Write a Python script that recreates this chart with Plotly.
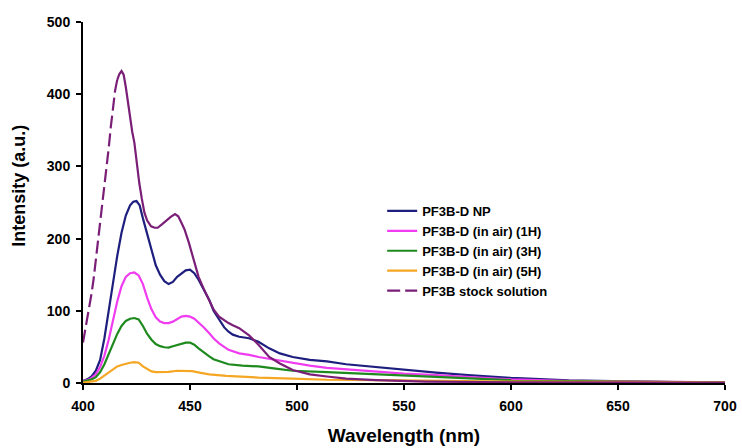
import plotly.graph_objects as go

# ---- data ----
wl_np = [400, 402, 404, 406, 408, 410, 412, 414, 416, 418, 420, 422, 423.5, 425, 426.5, 428, 430, 432,
         434, 436, 438, 440, 442, 444, 446, 448, 450, 452, 454, 456.5, 459, 461, 463.6, 466, 468, 470,
         473, 477.6, 482, 487, 492, 498, 506, 514, 523, 537, 550, 565, 580, 600, 627, 650, 675, 700]
int_np = [3, 5, 9, 17, 32, 62, 100, 140, 176, 208, 232, 246, 251, 252, 246, 228, 205, 182,
          163, 150, 141, 137, 140, 147, 152, 156, 157, 152, 143, 130, 115, 100, 87, 77, 71, 67,
          64, 62, 57, 48, 41, 36, 32, 30, 26, 22, 18, 14.5, 11, 7, 3.5, 2, 1.2, 1]

wl_1h = [400, 402, 404, 406, 408, 410, 412, 414, 416, 418, 420, 422, 424, 426, 428, 430, 432, 434,
         436, 438, 440, 442, 444, 446, 448, 450, 452, 454, 456.5, 459, 461, 463.6, 466, 468, 473,
         477.6, 482, 490, 498, 506, 514, 523, 537, 550, 565, 580, 600, 625, 650, 700]
int_1h = [3, 4, 7, 12, 22, 38, 60, 88, 113, 134, 147, 152, 153, 149, 137, 118, 102, 91,
          85, 83, 83, 85, 89, 92, 93, 92, 89, 84, 77, 69, 62, 55, 50, 46, 41,
          39, 36, 32, 27, 24, 21, 19, 16, 13, 11, 8, 5, 3, 2, 1]

wl_3h = [400, 402, 404, 406, 408, 410, 412, 414, 416, 418, 420, 422, 424, 426, 428, 430, 432, 434,
         436, 438, 440, 442, 444, 446, 448, 450, 452, 454, 456.5, 459, 461, 463.6, 468, 474.5, 482,
         490, 498, 514, 537, 550, 575, 600, 650, 700]
int_3h = [2, 3, 5, 8, 15, 26, 40, 55, 68, 79, 86, 89, 90, 88, 79, 68, 60, 54,
          51, 49.5, 49, 51, 53, 55, 56, 56, 53, 48, 42, 37, 33, 30, 26, 24, 23,
          20, 17, 15, 12, 10, 7, 4, 2, 1]

wl_5h = [400, 402, 404, 406, 408, 410, 412, 414, 416, 418, 420, 422, 424, 426, 428, 430, 432, 434,
         437, 440, 444, 448, 451, 455, 459, 467, 482, 498, 514, 537, 560, 600, 650, 700]
int_5h = [0.5, 1, 2, 3, 6, 10, 15, 19, 23, 25, 27, 28, 29, 28, 23, 19, 16, 15,
          15, 15.5, 17, 17, 16.5, 14, 12, 10, 7.5, 6, 4.5, 4, 3, 2, 1.5, 1]

# stock solution: rising part (drawn dashed) and remainder (drawn solid)
wl_stock_rise = [400, 401, 402, 403, 404, 405, 406, 407, 408, 409, 410, 411, 412, 413, 414, 415, 416]
int_stock_rise = [56, 72, 88, 106, 124, 145, 170, 196, 222, 250, 277, 300, 325, 355, 385, 405, 420]
wl_stock = [416, 417, 418, 419, 420, 421, 422, 423, 424, 425, 426.3, 427.5, 428.7, 430, 431.8, 433.5,
            434.9, 437, 438.8, 441, 443, 444.5, 446, 447.4, 449.5, 452, 454, 456.5, 459, 461, 463.6,
            466, 468, 470, 473, 477.6, 482, 487, 492, 498, 506, 514, 523, 537, 560, 600, 650, 700]
int_stock = [420, 428, 432, 427, 410, 388, 363, 348, 333, 305, 277, 255, 236, 225, 217, 215,
             215, 220, 225, 230, 234, 231, 222, 213, 194, 168, 147, 130, 115, 102, 92,
             87, 83, 80, 76, 66, 53, 36, 27, 18, 12, 9, 6, 4, 2, 1, 0.7, 0.5]

names = ["PF3B-D NP", "PF3B-D (in air) (1H)", "PF3B-D (in air) (3H)",
         "PF3B-D (in air) (5H)", "PF3B stock solution"]
colors = ["#1E1E7E", "#F03CF0", "#1E8A1E", "#F5A623", "#7A1E78"]

x_ticks = [400, 450, 500, 550, 600, 650, 700]
y_ticks = [0, 100, 200, 300, 400, 500]

FONT = "Liberation Sans, Arial, sans-serif"

fig = go.Figure()
series = [(wl_np, int_np), (wl_1h, int_1h), (wl_3h, int_3h), (wl_5h, int_5h)]
for (xs, ys), nm, c in zip(series, names[:4], colors[:4]):
    fig.add_trace(go.Scatter(x=xs, y=ys, mode="lines", name=nm,
                             line=dict(color=c, width=2.2)))

fig.add_trace(go.Scatter(x=wl_stock_rise, y=int_stock_rise, mode="lines", name=names[4],
                         line=dict(color=colors[4], width=2.2, dash="13px,5px")))
fig.add_trace(go.Scatter(x=wl_stock, y=int_stock, mode="lines", name=names[4], showlegend=False,
                         line=dict(color=colors[4], width=2.2)))

fig.update_layout(
    width=742, height=448,
    margin=dict(l=83, r=17, t=22, b=65, autoexpand=False),
    paper_bgcolor="white", plot_bgcolor="white",
    font=dict(family=FONT, color="black"),
    showlegend=True,
    legend=dict(x=0.466, y=0.518, xanchor="left", yanchor="top",
                bgcolor="rgba(0,0,0,0)", font=dict(size=13, weight="bold", family=FONT),
                itemwidth=30, tracegroupgap=0),
    xaxis=dict(range=[400, 700], tickvals=x_ticks, showgrid=False, zeroline=False,
               showline=True, linecolor="black", linewidth=2, automargin=False,
               ticks="outside", ticklen=5, tickwidth=2, tickcolor="black",
               ticklabelstandoff=4,
               tickfont=dict(size=14, weight="bold", family=FONT),
               title=dict(text="Wavelength (nm)", font=dict(size=19, weight="bold", family=FONT),
                          standoff=16)),
    yaxis=dict(range=[0, 500], tickvals=y_ticks, showgrid=False, zeroline=False,
               showline=True, linecolor="black", linewidth=2, automargin=False,
               ticks="outside", ticklen=5, tickwidth=2, tickcolor="black",
               ticklabelstandoff=3,
               tickfont=dict(size=14, weight="bold", family=FONT)),
    annotations=[dict(text="Intensity (a.u.)", textangle=-90, xref="paper", yref="paper",
                      x=-0.1, y=0.546, xanchor="center", yanchor="middle", showarrow=False,
                      font=dict(size=18, weight="bold", family=FONT))],
)

# remove the browser's default 8px page margin so the figure fills the window exactly
fig.write_html("out.html", config={"displayModeBar": False},
               post_script="document.body.style.margin='0px';")
